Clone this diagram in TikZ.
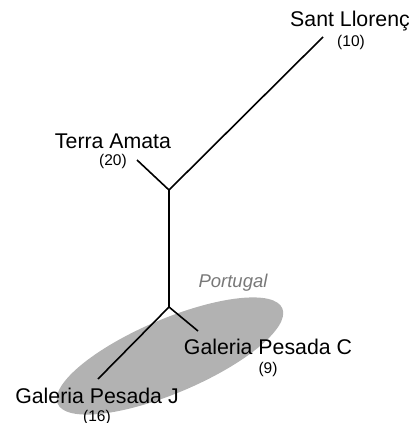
\documentclass[tikz,border=0pt]{standalone}
\usepackage{fontspec}
\setmainfont{Liberation Sans}
\definecolor{ellgray}{RGB}{178,178,178}
\definecolor{txtgray}{RGB}{120,120,120}
\begin{document}
\begin{tikzpicture}[x=1pt,y=-1pt,
  branch/.style={line width=1.6pt,black},
  bigtxt/.style={inner sep=0pt,font=\fontsize{21.3}{24}\selectfont},
  cnt/.style={inner sep=0pt,font=\fontsize{15.5}{18}\selectfont}]
\useasboundingbox (0,0) rectangle (414,423);
\fill[ellgray,rotate around={23:(170,356)}] (170,356) ellipse [x radius=122pt,y radius=37pt];
\coordinate (up) at (169,190);
\coordinate (lo) at (169,307);
\coordinate (sl) at (323,37);
\coordinate (ta) at (137,160);
\coordinate (gc) at (198,331);
\coordinate (gj) at (98,379);
\draw[branch] (sl) -- (up) -- (lo);
\draw[branch] (ta) -- (up);
\draw[branch] (gc) -- (lo) -- (gj);
\node[bigtxt] (slt) at (350,21.5) {Sant Llorenç};
\node[cnt] (sln) at (351,42) {(10)};
\node[bigtxt] (tat) at (113,141) {Terra Amata};
\node[cnt] (tan) at (113,161) {(20)};
\node[inner sep=0pt,font=\fontsize{18.5}{21}\selectfont\itshape,text=txtgray] (pt) at (233,283) {Portugal};
\node[bigtxt] (gct) at (268,347) {Galeria Pesada C};
\node[cnt] (gcn) at (268,369) {(9)};
\node[bigtxt] (gjt) at (97,396) {Galeria Pesada J};
\node[cnt] (gjn) at (97,417) {(16)};
\end{tikzpicture}
\end{document}
